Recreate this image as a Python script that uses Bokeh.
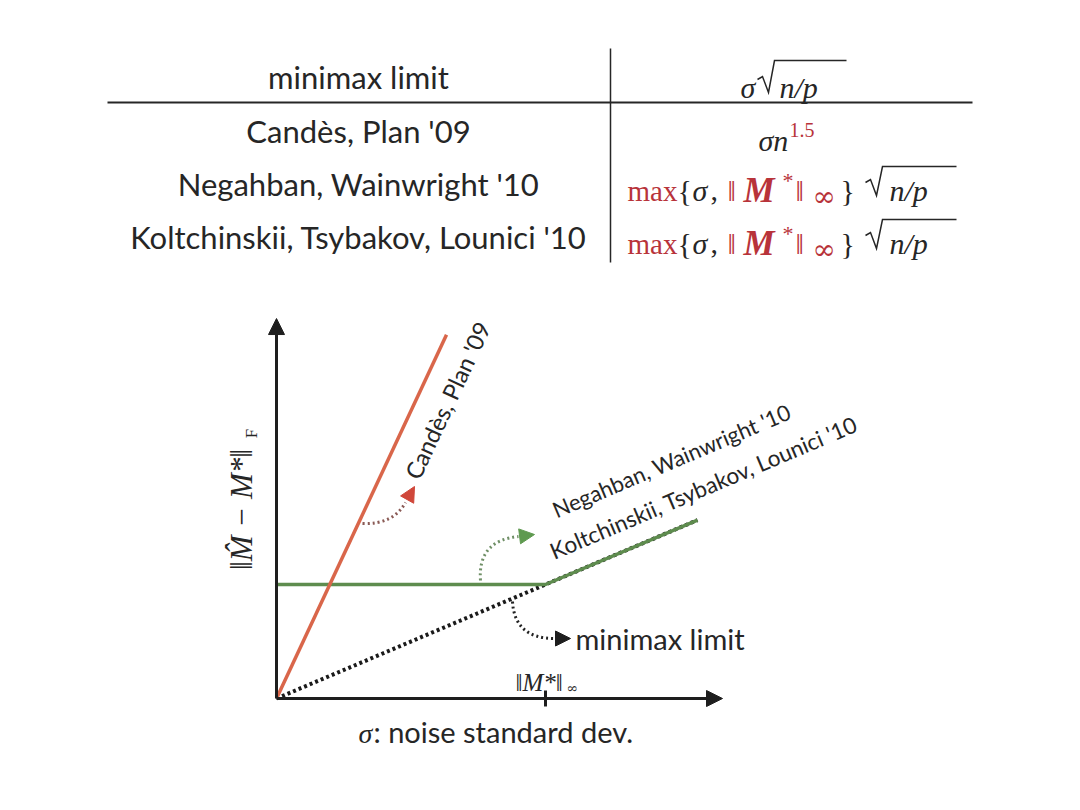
import math
from bokeh.plotting import figure
from bokeh.models import Range1d, Arrow, NormalHead
from bokeh.core.properties import value
from bokeh.embed import file_html
from bokeh.resources import INLINE

# ---------------- data ----------------
table_header = ["minimax limit"]
table_methods = ["Candès, Plan '09", "Negahban, Wainwright '10", "Koltchinskii, Tsybakov, Lounici '10"]

M_INF = 1.0                       # ||M*||_inf on the sigma axis
axis_sigma_max = 1.658
axis_err_max = 3.333
candes_sigma = [0.0, 0.632]
candes_err = [0.0, 3.19]
minimax_sigma = [0.0, 1.565]
minimax_err = [0.0, 1.565]
green_sigma = [0.0, 1.0, 1.565]
green_err = [1.0, 1.0, 1.565]

# ---------------- layout ----------------
W, H = 1064, 794
def Y(y):
    return 810 - y

SANS = "Lato"
SERIF = "Liberation Serif"
INK = "#262626"
RED = "#b8333a"
ORANGE = "#d9664a"
GREEN = "#5e8c4e"

ORIGIN_X, ORIGIN_Y = 276, 698
PX_SIG, PX_ERR = 269.0, 114.0

p = figure(width=W, height=H, x_range=Range1d(0, 1064), y_range=Range1d(16, 810),
           output_backend="svg", toolbar_location=None, min_border=0,
           x_axis_location=None, y_axis_location=None)
p.grid.visible = False
p.outline_line_color = None
p.background_fill_color = "white"
p.border_fill_color = "white"
p.extra_x_ranges = {"sig": Range1d((0 - ORIGIN_X) / PX_SIG, (1064 - ORIGIN_X) / PX_SIG)}
p.extra_y_ranges = {"err": Range1d((16 - Y(ORIGIN_Y)) / PX_ERR, (810 - Y(ORIGIN_Y)) / PX_ERR)}


def txt(x, y, s, font=SANS, size=27, color=INK, style="normal", align="left",
        baseline="alphabetic", angle=0.0):
    p.text(x=[x], y=[Y(y)], text=[s], text_font=value(font),
           text_font_size=value(f"{size}px"), text_font_style=style,
           text_color=color, text_align=align, text_baseline=baseline, angle=angle)


def seg(x0, y0, x1, y1, color=INK, width=1.5):
    p.segment(x0=[x0], y0=[Y(y0)], x1=[x1], y1=[Y(y1)], line_color=color, line_width=width)


def radical(x, base, top, right):
    xs = [x, x + 5, x + 11, x + 17, right]
    ys = [base - 10, base - 13, base + 3, top, top]
    p.line(xs, [Y(v) for v in ys], line_color=INK, line_width=1.5, line_join="miter")

# ---------------- table ----------------
seg(107, 102, 972, 102, width=2)
seg(610, 48, 610, 262, width=1.5)

row_y = [130, 183, 236]
txt(358, 76, table_header[0], size=31, align="center", baseline="middle")
for name, ry in zip(table_methods, row_y):
    txt(358, ry, name, size=31, align="center", baseline="middle")

MS = 30
# header: sigma sqrt(n/p)
txt(740, 87, "σ", SERIF, MS, style="italic")
radical(757, 89, 60, 846)
txt(779, 87, "n/p", SERIF, MS, style="italic")
# row 1: sigma n^1.5
txt(758, 140, "σn", SERIF, MS, style="italic")
txt(789, 129, "1.5", SERIF, 20, color=RED)
# rows 2,3: max{sigma, ||M*||_inf} sqrt(n/p)
for base in (190, 243):
    txt(627, base, "max", SERIF, 29, color=RED)
    txt(677, base, "{", SERIF, MS)
    txt(692, base, "σ", SERIF, MS, style="italic")
    txt(710, base, ",", SERIF, MS)
    txt(727, base, "‖", SERIF, MS, color=RED)
    txt(743, base, "M", SERIF, 35, color=RED, style="bold italic")
    txt(782, base - 10, "*", SERIF, 22, color=RED)
    txt(795, base, "‖", SERIF, MS, color=RED)
    txt(812, base + 6, "∞", "DejaVu Serif", 28, color=RED)
    txt(840, base, "}", SERIF, MS)
    radical(865, base + 2, base - 24, 956)
    txt(889, base, "n/p", SERIF, MS, style="italic")

# ---------------- chart ----------------
R = dict(x_range_name="sig", y_range_name="err")

p.line(minimax_sigma, minimax_err, line_color="#1a1a1a", line_width=4, line_dash="3 3", **R)
p.line(green_sigma, green_err, line_color=GREEN, line_width=3.5, **R)
p.line(candes_sigma, candes_err, line_color=ORANGE, line_width=3.5, **R)

# axes
for xe, ye in ((axis_sigma_max, 0.0), (0.0, axis_err_max)):
    p.add_layout(Arrow(end=NormalHead(size=16, fill_color="#1e1e1e", line_color="#1e1e1e"),
                       x_start=0.0, y_start=0.0, x_end=xe, y_end=ye,
                       line_color="#1e1e1e", line_width=3, **R))
# tick at ||M*||_inf
p.segment(x0=[M_INF], y0=[-0.07], x1=[M_INF], y1=[0.07], line_color="#1e1e1e", line_width=3, **R)

# curved dotted pointers
curves = [
    # (start, control, end, tip, line color, head color)
    ((362, 523), (393, 524), (405, 502), (414, 486), "#8a5a55", "#d0473a"),
    ((480, 580), (477, 540), (518, 536), (534, 534), "#6f8f66", "#5f9a50"),
    ((512, 601), (514, 638), (554, 638), (570, 638), "#222222", "#1e1e1e"),
]
for (s, c, e, t, lc, hc) in curves:
    p.quadratic(x0=[s[0]], y0=[Y(s[1])], x1=[e[0]], y1=[Y(e[1])], cx=[c[0]], cy=[Y(c[1])],
                line_color=lc, line_width=3, line_dash="2 3")
    p.add_layout(Arrow(end=NormalHead(size=15, fill_color=hc, line_color=hc),
                       x_start=e[0], y_start=Y(e[1]), x_end=t[0], y_end=Y(t[1]),
                       line_alpha=0.0))

# labels
txt(447, 400, "Candès, Plan '09", size=23.5, align="center", baseline="middle",
    angle=math.radians(65))
txt(671, 460, "Negahban, Wainwright '10", size=22, align="center", baseline="middle",
    angle=math.radians(23))
txt(703, 487, "Koltchinskii, Tsybakov, Lounici '10", size=22.5, align="center", baseline="middle",
    angle=math.radians(23))
txt(575, 638, "minimax limit", size=29, baseline="middle")

# x label
txt(358, 733, "σ", SERIF, 28, style="italic")
txt(373, 731, ":  noise standard dev.", size=29, baseline="middle")

# tick label
txt(515, 682, "‖M*‖", SERIF, 25, style="italic")
txt(566, 687, "∞", "DejaVu Serif", 14)

# y label (rotated)
txt(241, 509, "‖M\u0302 − M*‖", SERIF, 31, style="italic", align="center", baseline="middle",
    angle=math.radians(90))
txt(251, 433, "F", SERIF, 17, align="center", baseline="middle", angle=math.radians(90))

open("out.html", "w").write(file_html(p, INLINE))
